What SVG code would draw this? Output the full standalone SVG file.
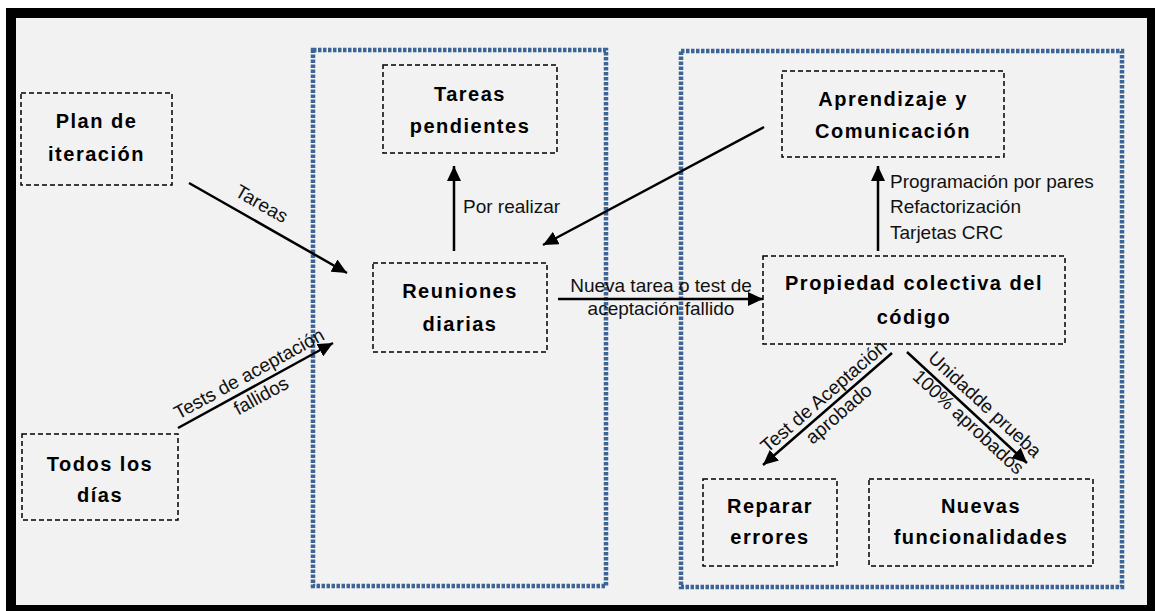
<svg xmlns="http://www.w3.org/2000/svg" width="1155" height="611" viewBox="0 0 1155 611">
  <defs>
    <marker id="head" markerUnits="userSpaceOnUse" markerWidth="16" markerHeight="14" refX="15" refY="7" orient="auto">
      <path d="M0,0 L15,7 L0,14 z" fill="#000"/>
    </marker>
    <style>
      .node rect { fill: none; stroke: #000; stroke-width: 1.5; stroke-dasharray: 5 3; }
      .node text { font-family: "Liberation Sans", Arial, sans-serif; font-weight: bold; font-size: 20px; letter-spacing: 1.5px; text-anchor: middle; fill: #000; }
      .zone { fill: none; stroke: #3d6497; stroke-width: 4.5; stroke-dasharray: 3.5 1.5; }
      .edge { stroke: #000; stroke-width: 2.5; fill: none; marker-end: url(#head); }
      .lbl { font-family: "Liberation Sans", Arial, sans-serif; font-size: 19px; fill: #111; }
      .mid { text-anchor: middle; }
    </style>
  </defs>

  <!-- page and frame -->
  <rect x="0" y="0" width="1155" height="611" fill="#fff"/>
  <rect x="11" y="13" width="1141" height="597" fill="#f2f2f2" stroke="#000" stroke-width="10"/>

  <!-- dotted zones -->
  <rect class="zone" x="313" y="50" width="293" height="536"/>
  <rect class="zone" x="681" y="51" width="441" height="536"/>

  <!-- nodes -->
  <g id="plan-iteracion" class="node">
    <rect x="21" y="93" width="151" height="92"/>
    <text x="96.5" y="128">Plan de</text>
    <text x="96.5" y="161">iteración</text>
  </g>
  <g id="todos-los-dias" class="node">
    <rect x="22" y="434" width="156" height="86"/>
    <text x="100" y="471">Todos los</text>
    <text x="100" y="502">días</text>
  </g>
  <g id="tareas-pendientes" class="node">
    <rect x="383" y="65" width="174" height="88"/>
    <text x="470" y="101">Tareas</text>
    <text x="470" y="133">pendientes</text>
  </g>
  <g id="reuniones-diarias" class="node">
    <rect x="373" y="263" width="174" height="89"/>
    <text x="460" y="298">Reuniones</text>
    <text x="460" y="331">diarias</text>
  </g>
  <g id="aprendizaje" class="node">
    <rect x="782" y="71" width="222" height="86"/>
    <text x="893" y="106">Aprendizaje y</text>
    <text x="893" y="138">Comunicación</text>
  </g>
  <g id="propiedad-colectiva" class="node">
    <rect x="763" y="256" width="302" height="88"/>
    <text x="914" y="290">Propiedad colectiva del</text>
    <text x="914" y="324">código</text>
  </g>
  <g id="reparar-errores" class="node">
    <rect x="703" y="479" width="134" height="87"/>
    <text x="770" y="513">Reparar</text>
    <text x="770" y="544">errores</text>
  </g>
  <g id="nuevas-funcionalidades" class="node">
    <rect x="869" y="479" width="224" height="87"/>
    <text x="981" y="513">Nuevas</text>
    <text x="981" y="544">funcionalidades</text>
  </g>

  <!-- connectors -->
  <g id="connectors">
    <line class="edge" x1="189" y1="183" x2="347" y2="273"/>
    <line class="edge" x1="178" y1="428" x2="333" y2="343"/>
    <line class="edge" x1="454" y1="251" x2="454" y2="166"/>
    <line class="edge" x1="764" y1="127" x2="543" y2="245"/>
    <line class="edge" x1="558" y1="299" x2="763" y2="299"/>
    <line class="edge" x1="878" y1="251" x2="878" y2="166"/>
    <line class="edge" x1="892" y1="353" x2="763" y2="465"/>
    <line class="edge" x1="907" y1="352" x2="1027" y2="463"/>

    <!-- connector labels -->
    <text class="lbl mid" transform="translate(253,219) rotate(29.7)" y="-11">Tareas</text>
    <g transform="translate(255.5,385.5) rotate(-28.7)">
      <text class="lbl mid" y="-7">Tests de aceptación</text>
      <text class="lbl mid" y="18">fallidos</text>
    </g>
    <text class="lbl" x="463" y="213">Por realizar</text>
    <text class="lbl mid" x="661" y="292">Nueva tarea o test de</text>
    <text class="lbl mid" x="661" y="315">aceptación fallido</text>
    <text class="lbl" x="890" y="188">Programación por pares</text>
    <text class="lbl" x="890" y="213">Refactorización</text>
    <text class="lbl" x="890" y="239">Tarjetas CRC</text>
    <g transform="translate(831,405) rotate(-41)">
      <text class="lbl mid" y="-5">Test de Aceptación</text>
      <text class="lbl mid" y="18">aprobado</text>
    </g>
    <g transform="translate(975,415) rotate(42.8)">
      <text class="lbl mid" y="-8">Unidadde prueba</text>
      <text class="lbl mid" y="16">100% aprobados</text>
    </g>
  </g>
</svg>
